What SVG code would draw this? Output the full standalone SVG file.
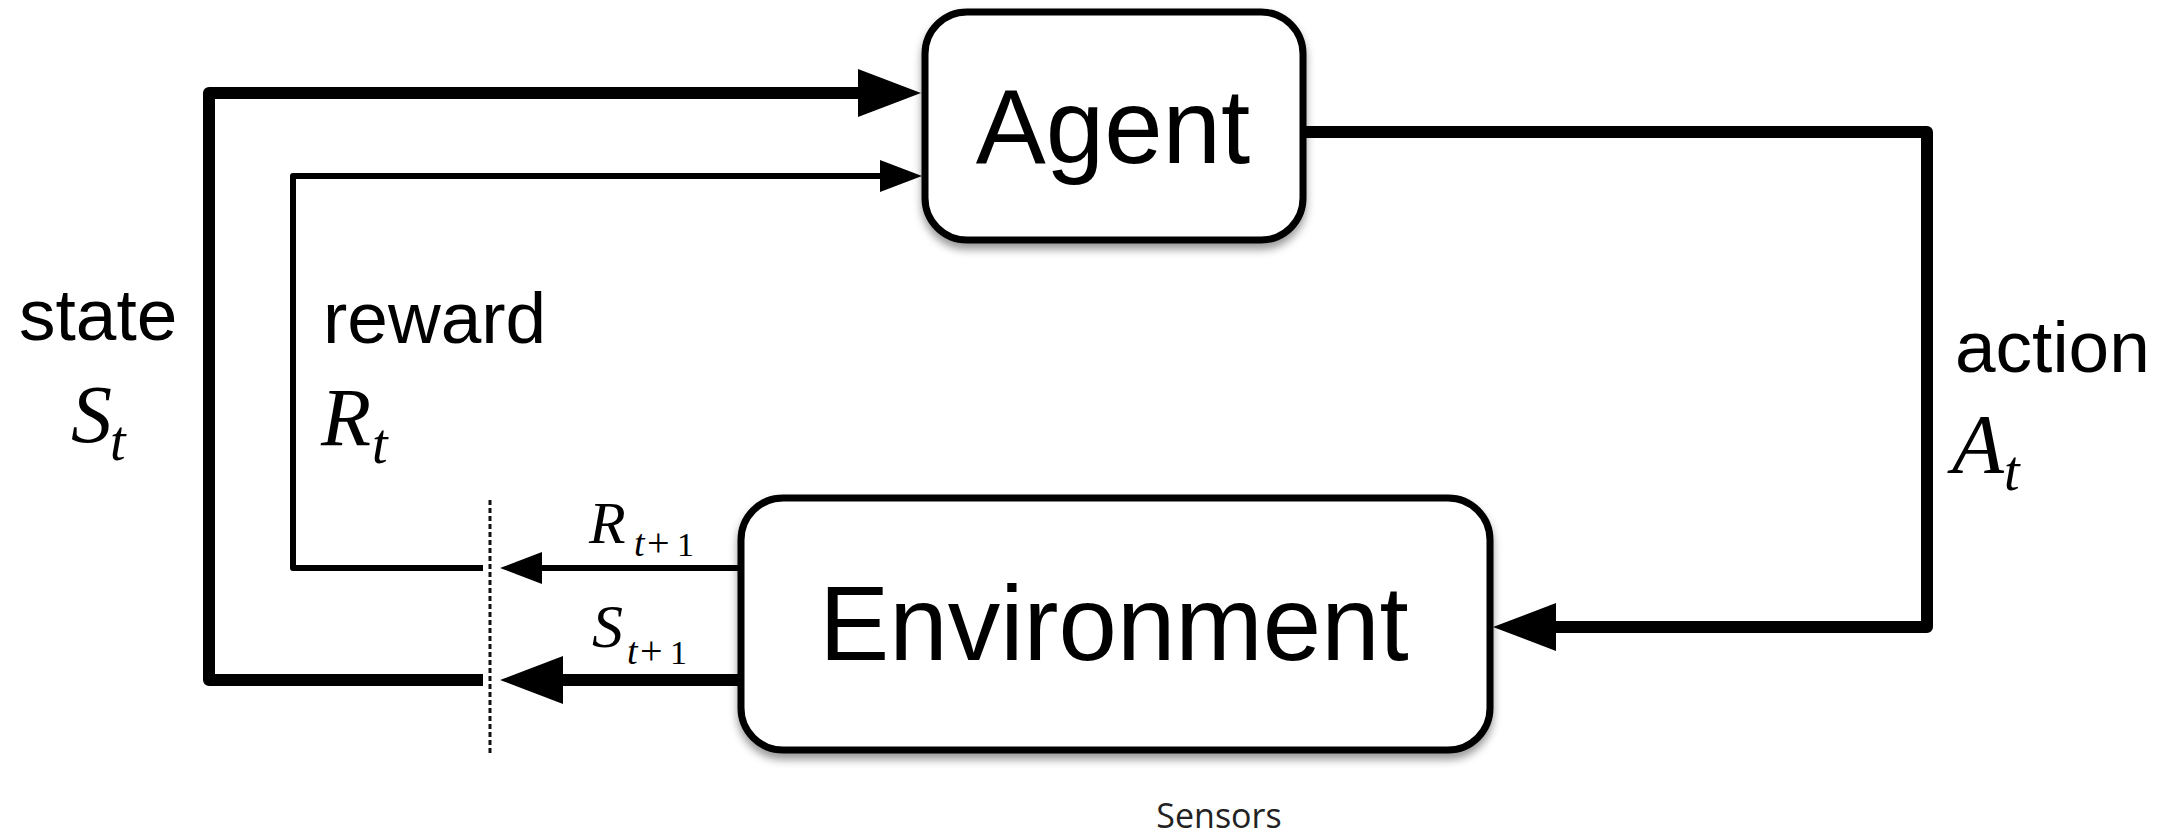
<svg xmlns="http://www.w3.org/2000/svg" width="2180" height="835" viewBox="0 0 2180 835">
  <defs>
    <style>
      .box { fill: #ffffff; stroke: #000000; stroke-width: 7; filter: url(#shadow); }
      .node-label { font-family: "Liberation Sans", Arial, Helvetica, sans-serif; font-size: 105px; fill: #000000; text-anchor: middle; }
      .word { font-family: "Liberation Sans", Arial, Helvetica, sans-serif; font-size: 73px; fill: #000000; }
      .math { font-family: "Liberation Serif", "Times New Roman", serif; font-style: italic; fill: #000000; }
      .roman { font-style: normal; }
      .thick { fill: none; stroke: #000000; stroke-width: 12; stroke-linejoin: round; }
      .thin { fill: none; stroke: #000000; stroke-width: 6; stroke-linejoin: round; }
      .divider { fill: none; stroke: #111111; stroke-width: 3; stroke-dasharray: 5 3; }
      .caption { font-family: "Open Sans", "Noto Sans", sans-serif; font-size: 34px; fill: #222222; text-anchor: middle; }
    </style>
    <filter id="shadow" x="-10%" y="-10%" width="120%" height="130%">
      <feDropShadow dx="0" dy="6" stdDeviation="4" flood-color="#000000" flood-opacity="0.4"/>
    </filter>
    <!-- arrowheads start at the path end and point forward -->
    <marker id="head-thick" markerUnits="userSpaceOnUse" viewBox="0 0 63 48" refX="0" refY="24" markerWidth="63" markerHeight="48" orient="auto">
      <path d="M0,0 L63,24 L0,48 z" fill="#000000"/>
    </marker>
    <marker id="head-thin" markerUnits="userSpaceOnUse" viewBox="0 0 42 32" refX="0" refY="16" markerWidth="42" markerHeight="32" orient="auto">
      <path d="M0,0 L42,16 L0,32 z" fill="#000000"/>
    </marker>
  </defs>

  <rect width="2180" height="835" fill="#ffffff"/>

  <!-- connectors -->
  <g id="connectors">
    <!-- state loop back to the agent -->
    <path class="thick" d="M483,680 H209 V93 H858" marker-end="url(#head-thick)"/>
    <!-- reward loop back to the agent -->
    <path class="thin" d="M483,568 H293 V176 H880" marker-end="url(#head-thin)"/>
    <!-- action from agent to environment -->
    <path class="thick" d="M1300,132 H1927 V627 H1556" marker-end="url(#head-thick)"/>
    <!-- environment outputs crossing the boundary -->
    <path class="thin" d="M742,568 H542" marker-end="url(#head-thin)"/>
    <path class="thick" d="M745,680 H563" marker-end="url(#head-thick)"/>
    <!-- time-step boundary -->
    <line class="divider" x1="490" y1="500" x2="490" y2="754"/>
  </g>

  <g id="agent">
    <rect class="box" x="925" y="12" width="378" height="228" rx="42" ry="42"/>
    <text class="node-label" x="1113" y="163">Agent</text>
  </g>

  <g id="environment">
    <rect class="box" x="741" y="498" width="749" height="252" rx="42" ry="42"/>
    <text class="node-label" x="1114" y="660">Environment</text>
  </g>

  <!-- edge labels -->
  <g id="label-state">
    <text class="word" x="19" y="340">state</text>
    <text class="math" x="71" y="442" font-size="82">S<tspan x="110" font-size="56" dy="18">t</tspan></text>
  </g>
  <g id="label-reward">
    <text class="word" x="323" y="343">reward</text>
    <text class="math" x="321" y="445" font-size="82">R<tspan x="372" font-size="56" dy="18">t</tspan></text>
  </g>
  <g id="label-action">
    <text class="word" x="1955" y="372">action</text>
    <text class="math" x="1952" y="473" font-size="85">A<tspan x="2004" font-size="56" dy="17">t</tspan></text>
  </g>
  <g id="label-reward-next">
    <text class="math" x="589" y="543" font-size="60">R<tspan x="634" y="556" font-size="38">t</tspan><tspan class="roman" x="647" font-size="40">+</tspan><tspan class="roman" x="677" font-size="34">1</tspan></text>
  </g>
  <g id="label-state-next">
    <text class="math" x="592" y="647" font-size="62">S<tspan x="627" y="664" font-size="38">t</tspan><tspan class="roman" x="640" font-size="40">+</tspan><tspan class="roman" x="670" font-size="34">1</tspan></text>
  </g>

  <g id="caption">
    <text class="caption" x="1219" y="828">Sensors</text>
  </g>
</svg>
